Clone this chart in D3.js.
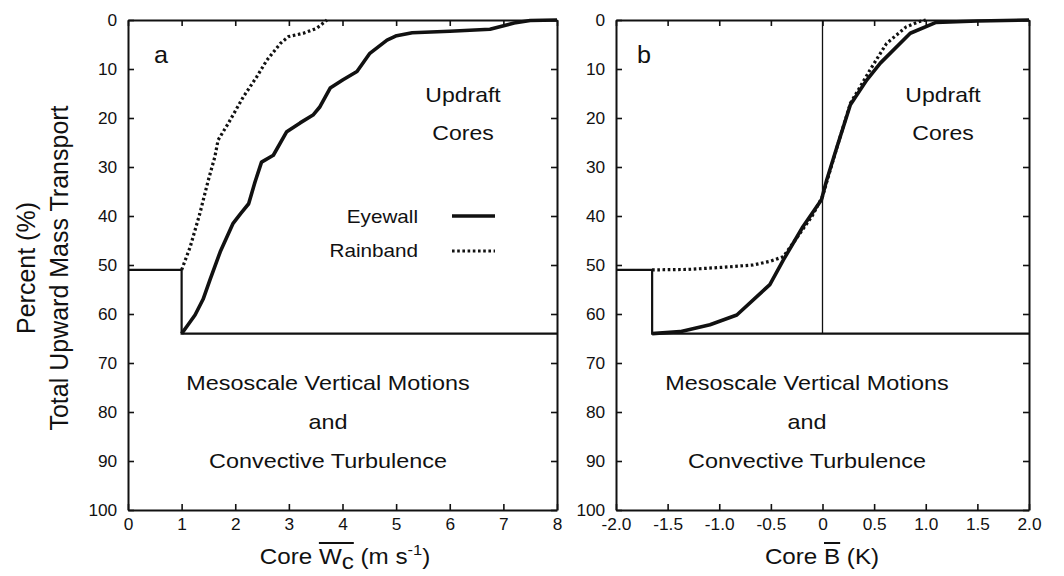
<!DOCTYPE html>
<html>
<head>
<meta charset="utf-8">
<script src="https://cdn.jsdelivr.net/npm/d3@7"></script>
<style>
  html, body { margin: 0; padding: 0; background: #fff; }
  svg { display: block; }
  text { font-family: "Liberation Sans", Arial, Helvetica, sans-serif; fill: #111; }
</style>
</head>
<body>
<svg id="chart" width="1064" height="576"></svg>
<script>
// Cumulative upward mass transport (percent, counted down from the top) versus
// core-average vertical velocity (panel a) and core-average buoyancy (panel b).

// Panel a: core W (m s-1) -> percent
const eyewallW = [1.0, 1.1, 1.25, 1.4, 1.53, 1.72, 1.96, 2.1, 2.25, 2.37, 2.49, 2.71, 2.96, 3.21, 3.45, 3.58, 3.77, 4.01, 4.27, 4.51, 4.83, 5.01, 5.3, 6.0, 6.75, 7.2, 7.5, 8.0];
const eyewallWPct = [64, 62.5, 60.2, 57, 53, 47.3, 41.5, 39.5, 37.5, 33, 29, 27.6, 22.8, 21, 19.4, 17.7, 13.9, 12.2, 10.5, 6.8, 4.1, 3.2, 2.6, 2.3, 1.9, 0.6, 0.1, 0];
const rainbandW = [1.0, 1.16, 1.34, 1.49, 1.62, 1.68, 1.87, 2.15, 2.40, 2.59, 2.84, 2.99, 3.27, 3.52, 3.71];
const rainbandWPct = [51, 46.3, 39.5, 33, 27.9, 24.5, 21.1, 15.7, 11.6, 8.2, 4.8, 3.4, 2.7, 1.7, 0];
// Threshold boundary separating cores from the rest
const stepW = [0, 1, 1, 8];
const stepWPct = [51, 51, 64, 64];

// Panel b: core B (K) -> percent
const eyewallB = [-1.65, -1.38, -1.09, -0.83, -0.51, -0.38, -0.19, -0.01, 0.04, 0.14, 0.27, 0.43, 0.56, 0.85, 1.1, 1.5, 2.0];
const eyewallBPct = [64, 63.6, 62.2, 60.2, 54, 49, 42.2, 36.7, 32.7, 25.9, 17.3, 12.2, 8.8, 2.7, 0.5, 0.2, 0];
const rainbandB = [-1.65, -1.3, -0.99, -0.67, -0.5, -0.38, -0.25, -0.1, 0.0, 0.14, 0.27, 0.46, 0.62, 0.81, 0.94, 1.0];
const rainbandBPct = [51, 50.9, 50.5, 50, 49.2, 48.3, 44.5, 40, 36, 26, 17, 10.2, 4.8, 1.4, 0.3, 0];
const stepB = [-2, -1.65, -1.65, 2];
const stepBPct = [51, 51, 64, 64];
const zeroLineB = [0, 0];
const zeroLinePct = [0, 64];

// Tick values
const xTicksA = [0, 1, 2, 3, 4, 5, 6, 7, 8];
const xTicksB = [-2, -1.5, -1, -0.5, 0, 0.5, 1, 1.5, 2];
const yTicks = [0, 10, 20, 30, 40, 50, 60, 70, 80, 90, 100];

const svg = d3.select("#chart");
const y = d3.scaleLinear().domain([0, 100]).range([20, 510]);
const xA = d3.scaleLinear().domain([0, 8]).range([128, 557]);
const xB = d3.scaleLinear().domain([-2, 2]).range([616, 1029]);

const zip = (xs, ys) => xs.map((v, i) => [v, ys[i]]);

// horizontally widened text, placed at (x, y)
function stext(parent, x, yy, str, size, sx, anchor) {
  const g = parent.append("g").attr("transform", `translate(${x},${yy}) scale(${sx},1)`);
  const t = g.append("text")
    .attr("text-anchor", anchor || "middle")
    .style("font-size", size + "px");
  if (str !== null) t.text(str);
  return { g, t };
}

function drawPanel(x, xTicks, fmt, series, extras) {
  const g = svg.append("g");
  const [x0, x1] = x.range();
  const [y0, y1] = y.range();

  const bottom = g.append("g").attr("transform", `translate(0,${y1})`)
    .call(d3.axisBottom(x).tickValues(xTicks).tickSizeInner(-6).tickSizeOuter(0).tickPadding(9).tickFormat(fmt));
  const top = g.append("g").attr("transform", `translate(0,${y0})`)
    .call(d3.axisTop(x).tickValues(xTicks).tickSizeInner(-6).tickSizeOuter(0).tickFormat(""));
  const left = g.append("g").attr("transform", `translate(${x0},0)`)
    .call(d3.axisLeft(y).tickValues(yTicks).tickSizeInner(-6).tickSizeOuter(0).tickPadding(10));
  const right = g.append("g").attr("transform", `translate(${x1},0)`)
    .call(d3.axisRight(y).tickValues(yTicks).tickSizeInner(-6).tickSizeOuter(0).tickFormat(""));

  [bottom, top, left, right].forEach(a => {
    a.select(".domain").attr("stroke", "#111").attr("stroke-width", 2);
    a.selectAll(".tick line").attr("stroke", "#111").attr("stroke-width", 1.6);
    a.selectAll(".tick text")
      .attr("fill", "#111")
      .style("font-family", '"Liberation Sans", Arial, sans-serif')
      .style("font-size", "16px")
      .attr("transform", "scale(1.08,1)");
  });

  const line = d3.line().x(d => x(d[0])).y(d => y(d[1]));

  extras.forEach(e => {
    g.append("path").datum(e.data).attr("d", line)
      .attr("fill", "none").attr("stroke", "#111").attr("stroke-width", e.width);
  });

  series.forEach(s => {
    g.append("path").datum(s.data).attr("d", line)
      .attr("fill", "none").attr("stroke", "#111")
      .attr("stroke-width", s.dotted ? 3.2 : 3.6)
      .attr("stroke-linejoin", "round")
      .attr("stroke-dasharray", s.dotted ? "2.6,2.6" : null);
  });
  return g;
}

// tick labels with a plain hyphen for negatives
const fmtB = d => d === 0 ? "0" : (d < 0 ? "-" : "") + Math.abs(d).toFixed(1);

const gA = drawPanel(xA, xTicksA, d => String(d),
  [{ data: zip(rainbandW, rainbandWPct), dotted: true },
   { data: zip(eyewallW, eyewallWPct), dotted: false }],
  [{ data: zip(stepW, stepWPct), width: 2.2 }]);

const gB = drawPanel(xB, xTicksB, fmtB,
  [{ data: zip(rainbandB, rainbandBPct), dotted: true },
   { data: zip(eyewallB, eyewallBPct), dotted: false }],
  [{ data: zip(stepB, stepBPct), width: 2.2 },
   { data: zip(zeroLineB, zeroLinePct), width: 1.3 }]);

// Panel letters
stext(gA, 161, 63, "a", 24, 1.05, "middle");
stext(gB, 644, 63, "b", 24, 1.05, "middle");

// Region annotations
[[gA, 463, 328], [gB, 943, 807]].forEach(([g, ux, mx]) => {
  stext(g, ux, 102, "Updraft", 20, 1.15, "middle");
  stext(g, ux, 140, "Cores", 20, 1.15, "middle");
  stext(g, mx, 390, "Mesoscale Vertical Motions", 20, 1.17, "middle");
  stext(g, mx, 429, "and", 20, 1.17, "middle");
  stext(g, mx, 468, "Convective Turbulence", 20, 1.17, "middle");
});

// Legend (panel a)
stext(gA, 418, 223, "Eyewall", 18, 1.15, "end");
stext(gA, 418, 257, "Rainband", 18, 1.15, "end");
gA.append("line").attr("x1", 452).attr("x2", 495).attr("y1", 216).attr("y2", 216)
  .attr("stroke", "#111").attr("stroke-width", 3.6);
gA.append("line").attr("x1", 452).attr("x2", 495).attr("y1", 251).attr("y2", 251)
  .attr("stroke", "#111").attr("stroke-width", 3.2).attr("stroke-dasharray", "2.6,2.6");

// Y-axis titles
[["Percent (%)", 35], ["Total Upward Mass Transport", 68]].forEach(([s, bx]) => {
  svg.append("text")
    .attr("transform", `translate(${bx},268) rotate(-90)`)
    .attr("text-anchor", "middle")
    .style("font-size", "25px")
    .text(s);
});

// X-axis title, panel a: Core W_c (m s^-1) with overbar
{
  const { g, t } = stext(svg, 345, 564, null, 22, 1.1, "middle");
  t.append("tspan").text("Core ");
  t.append("tspan").text("W");
  t.append("tspan").attr("dy", 5).text("c");
  t.append("tspan").attr("dy", -5).text(" (m s");
  t.append("tspan").attr("dy", -9).style("font-size", "15px").text("-1");
  t.append("tspan").attr("dy", 9).text(")");
  const node = t.node();
  const xs = node.getStartPositionOfChar(5).x;
  const xe = node.getEndPositionOfChar(6).x;
  g.append("line").attr("x1", xs).attr("x2", xe).attr("y1", -21).attr("y2", -21)
    .attr("stroke", "#111").attr("stroke-width", 2);
}

// X-axis title, panel b: Core B (K) with overbar
{
  const { g, t } = stext(svg, 822, 564, "Core B (K)", 22, 1.1, "middle");
  const node = t.node();
  const xs = node.getStartPositionOfChar(5).x;
  const xe = node.getEndPositionOfChar(5).x;
  g.append("line").attr("x1", xs).attr("x2", xe).attr("y1", -21).attr("y2", -21)
    .attr("stroke", "#111").attr("stroke-width", 2);
}
</script>
</body>
</html>
